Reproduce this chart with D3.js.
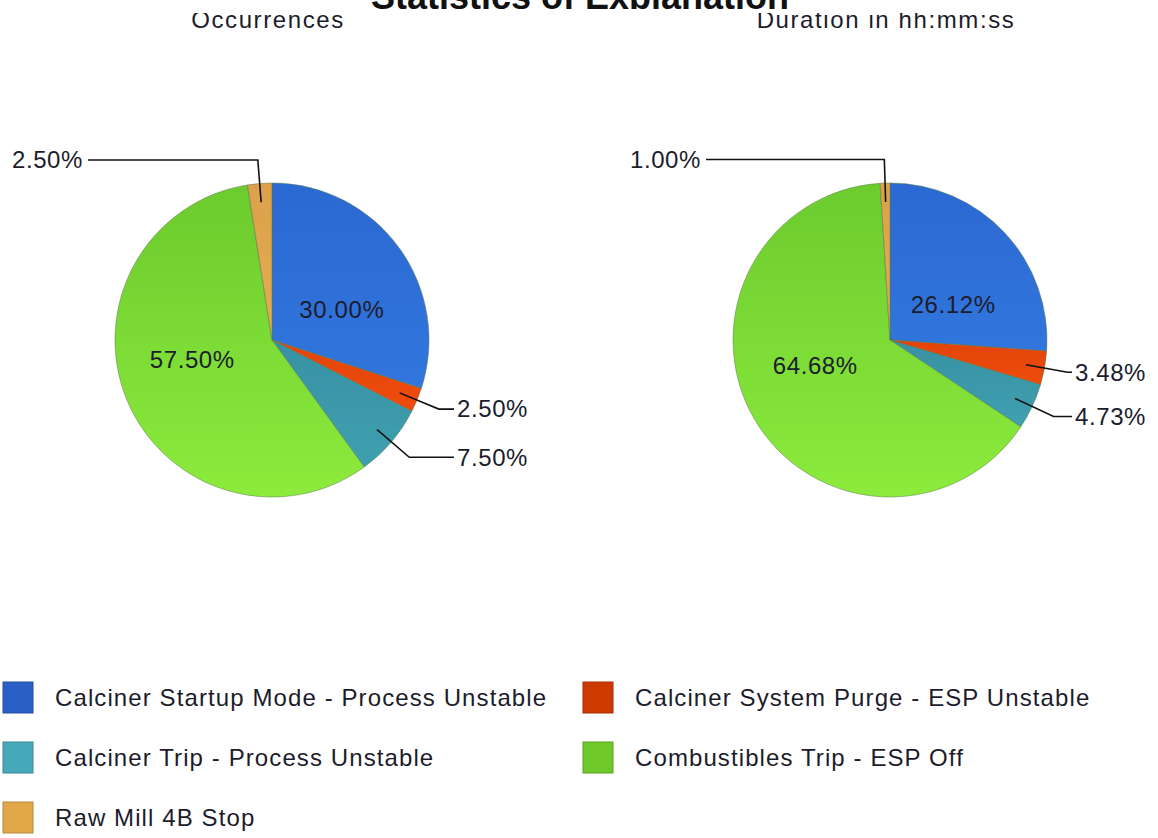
<!DOCTYPE html>
<meta charset="utf-8">
<script src="https://cdn.jsdelivr.net/npm/d3@7"></script>
<style>
body { margin: 0; background: #fff; font-family: "Liberation Sans", Arial, sans-serif; }
.lbl { font-size: 24px; fill: #1c1c2c; letter-spacing: 0.6px; }
.leader { fill: none; stroke: #111; stroke-width: 1.6px; }
.legend text { font-size: 24px; fill: #1c1c2c; letter-spacing: 1.1px; }
</style>
<body>
<script>
// data
var categories = ["Calciner Startup Mode - Process Unstable", "Calciner System Purge - ESP Unstable",
                  "Calciner Trip - Process Unstable", "Combustibles Trip - ESP Off", "Raw Mill 4B Stop"];
var occurrences = [30.00, 2.50, 7.50, 57.50, 2.50];
var duration = [26.12, 3.48, 4.73, 64.68, 1.00];
var subtitles = ["Occurrences", "Duration in hh:mm:ss"];
var title = "Statistics of Explanation";

var sliceTop = ["#2b69d2", "#e2440a", "#3891a3", "#6ccb2e", "#dca14a"],
    sliceBot = ["#3176dc", "#ee4c0c", "#3fa0b0", "#8ceb3c", "#e4ad52"],
    legendCol = ["#2a5fc6", "#cc3a00", "#46a9ba", "#6fc82a", "#e0a848"];

var W = 1158, H = 838, R = 157, cy = 340;
var centers = [272, 890];

var svg = d3.select("body").append("svg").attr("width", W).attr("height", H);
var defs = svg.append("defs");

// title and subtitles are cut off at the top in the original
defs.append("clipPath").attr("id", "clipTitle").append("rect").attr("x", 0).attr("y", 0).attr("width", W).attr("height", 9);
defs.append("clipPath").attr("id", "clipSub").append("rect").attr("x", 0).attr("y", 13).attr("width", W).attr("height", 30);

svg.append("text").attr("clip-path", "url(#clipTitle)")
  .attr("x", 580).attr("y", 9).attr("text-anchor", "middle")
  .style("font-size", "36px").style("font-weight", "bold").style("fill", "#111")
  .text(title);

svg.selectAll(".sub").data(subtitles).enter().append("text")
  .attr("class", "sub").attr("clip-path", "url(#clipSub)")
  .attr("x", function(d, i) { return centers[i] - 4; }).attr("y", 28)
  .attr("text-anchor", "middle").style("font-size", "24px").style("fill", "#1c1c2c")
  .style("letter-spacing", "1.6px")
  .text(function(d) { return d; });

// vertical gradient per colour
sliceTop.forEach(function(c, i) {
  var g = defs.append("linearGradient").attr("id", "grad" + i)
    .attr("x1", 0).attr("y1", 0).attr("x2", 0).attr("y2", 1);
  g.append("stop").attr("offset", "0%").attr("stop-color", c);
  g.append("stop").attr("offset", "100%").attr("stop-color", sliceBot[i]);
});

var pie = d3.pie().sort(null).value(function(d) { return d; });
var arc = d3.arc().innerRadius(0).outerRadius(R);
var fmt = function(v) { return v.toFixed(2) + "%"; };

function drawPie(values, cx) {
  var g = svg.append("g").attr("transform", "translate(" + cx + "," + cy + ")");
  var arcs = pie(values);

  g.selectAll("path.slice").data(arcs).enter().append("path")
    .attr("class", "slice")
    .attr("d", arc)
    .attr("fill", function(d, i) { return "url(#grad" + i + ")"; })
    .attr("stroke", "#5a7a4a").attr("stroke-opacity", 0.5).attr("stroke-width", 1);

  arcs.forEach(function(d) {
    var a = (d.startAngle + d.endAngle) / 2;
    var share = d.value;
    if (share >= 10) {
      // big slices: label inside
      g.append("text").attr("class", "lbl")
        .attr("x", Math.sin(a) * R * 0.55)
        .attr("y", -Math.cos(a) * R * 0.33)
        .attr("text-anchor", "middle").attr("dy", "0.35em")
        .text(fmt(share));
    } else {
      // small slices: leader line out to the side
      var p0 = [Math.sin(a) * R * 0.88, -Math.cos(a) * R * 0.88],
          p1 = [Math.sin(a) * R * 1.15, -Math.cos(a) * R * 1.15],
          left = Math.sin(a) < 0,
          p2 = [left ? -184 : 182, p1[1]];
      g.append("path").attr("class", "leader")
        .attr("d", d3.line()([p0, p1, p2]));
      g.append("text").attr("class", "lbl")
        .attr("x", left ? p2[0] - 5 : p2[0] + 3)
        .attr("y", p1[1]).attr("dy", "0.35em")
        .attr("text-anchor", left ? "end" : "start")
        .text(fmt(share));
    }
  });
}

drawPie(occurrences, centers[0]);
drawPie(duration, centers[1]);

// legend, two columns
var leg = svg.append("g").attr("class", "legend");
var item = leg.selectAll("g").data(categories).enter().append("g")
  .attr("transform", function(d, i) { return "translate(" + (i % 2 ? 583 : 3) + "," + (682 + Math.floor(i / 2) * 60) + ")"; });
item.append("rect").attr("width", 30).attr("height", 31)
  .attr("fill", function(d, i) { return legendCol[i]; })
  .attr("stroke", function(d, i) { return d3.color(legendCol[i]).darker(0.6); }).attr("stroke-width", 1);
item.append("text").attr("x", 52).attr("y", 24).text(function(d) { return d; });
</script>
</body>
